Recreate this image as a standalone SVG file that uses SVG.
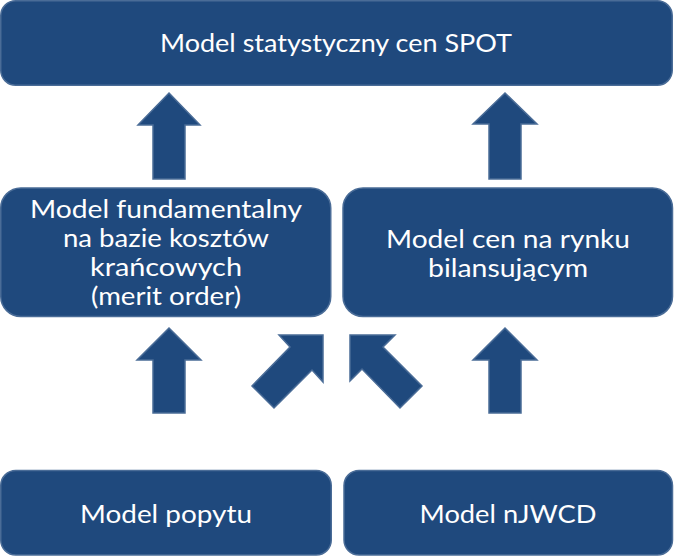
<svg xmlns="http://www.w3.org/2000/svg" width="674" height="556" viewBox="0 0 674 556">
<style>
.box{fill:#1F497D;stroke:#4A6C97;stroke-width:1.5}
.arr{fill:#1F497D;stroke:#4A6C97;stroke-width:1.5;stroke-linejoin:miter}
.t{fill:#FFFFFF;font-family:Lato,"Noto Sans","Liberation Sans",sans-serif;font-size:25px;text-anchor:middle}
</style>
<rect width="674" height="556" fill="#FFFFFF"/>
<g id="connectors">
<polygon class="arr" points="169,93 200,125 185,125 185,179 153,179 153,125 138,125"/>
<polygon class="arr" points="505,93 537,124 521,124 521,179 489,179 489,124 473,124"/>
<polygon class="arr" points="169,328 201,360 185,360 185,413 153,413 153,360 137,360"/>
<polygon class="arr" points="505,328 537,360 521,360 521,413 489,413 489,360 473,360"/>
<polygon class="arr" points="323,335 323,382 312,370 274,408 252,386 290,347 279,335"/>
<polygon class="arr" points="350,335 395,335 383,347 422,386 400,408 362,369 350,381"/>
</g>
<g id="node-spot">
<rect class="box" x="0.75" y="0.75" width="671.5" height="84.5" rx="15"/>
<text class="t" x="336" y="52" textLength="352" lengthAdjust="spacingAndGlyphs">Model statystyczny cen SPOT</text>
</g>
<g id="node-fundamental">
<rect class="box" x="0.75" y="188" width="330" height="128.5" rx="20"/>
<text class="t" x="166" y="218" textLength="272" lengthAdjust="spacingAndGlyphs">Model fundamentalny</text>
<text class="t" x="166" y="247" textLength="206" lengthAdjust="spacingAndGlyphs">na bazie kosztów</text>
<text class="t" x="166" y="276" textLength="152" lengthAdjust="spacingAndGlyphs">krańcowych</text>
<text class="t" x="166" y="305" textLength="150" lengthAdjust="spacingAndGlyphs">(merit order)</text>
</g>
<g id="node-balancing">
<rect class="box" x="343" y="188" width="329.5" height="128.5" rx="20"/>
<text class="t" x="508" y="248" textLength="244" lengthAdjust="spacingAndGlyphs">Model cen na rynku</text>
<text class="t" x="508" y="277" textLength="160" lengthAdjust="spacingAndGlyphs">bilansującym</text>
</g>
<g id="node-demand">
<rect class="box" x="0.75" y="470.5" width="330.5" height="84.5" rx="15"/>
<text class="t" x="166" y="523" textLength="172" lengthAdjust="spacingAndGlyphs">Model popytu</text>
</g>
<g id="node-njwcd">
<rect class="box" x="344" y="470.5" width="328.5" height="84.5" rx="15"/>
<text class="t" x="508" y="523" textLength="177" lengthAdjust="spacingAndGlyphs">Model nJWCD</text>
</g>
</svg>
